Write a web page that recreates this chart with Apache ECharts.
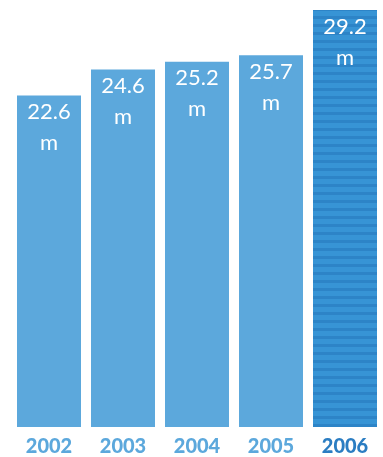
<!DOCTYPE html>
<html>
<head>
<meta charset="utf-8">
<script src="https://cdn.jsdelivr.net/npm/echarts@6/dist/echarts.min.js"></script>
<style>
  html, body { margin: 0; padding: 0; background: #ffffff; }
  #chart { width: 383px; height: 457px; }
</style>
</head>
<body>
<div id="chart"></div>
<script>
// Yearly totals, in millions
const years = ['2002', '2003', '2004', '2005', '2006'];
const totals = [22.6, 24.6, 25.2, 25.7, 29.2];
const unit = 'm';

// Value axis range; bars rise from the axis floor rather than from zero
const axisFloor = -3.0;
const axisCeil = 29.2;

const barBlue = '#5ca8dc';
const yearBlue = '#5ca8dc';
const highlightYearBlue = '#2b7dc2';

// Horizontal pinstripe fill for the latest year
function stripePattern() {
  const c = document.createElement('canvas');
  c.width = 8; c.height = 8;
  const g = c.getContext('2d');
  g.fillStyle = '#3794d5';
  g.fillRect(0, 0, 8, 8);
  g.fillStyle = '#2d84c7';
  g.fillRect(0, 0, 8, 3);
  return c;
}
const stripes = { image: stripePattern(), repeat: 'repeat' };

const last = years.length - 1;

const chart = echarts.init(document.getElementById('chart'), null, { renderer: 'canvas' });
chart.setOption({
  animation: false,
  grid: { left: 12, right: 1, top: 10, bottom: 29 },
  xAxis: {
    type: 'category',
    data: years.map((y, i) => ({
      value: y,
      textStyle: { color: i === last ? highlightYearBlue : yearBlue }
    })),
    axisLine: { show: false },
    axisTick: { show: false },
    axisLabel: {
      margin: 10,
      fontFamily: 'Lato',
      fontWeight: 900,
      fontSize: 20
    }
  },
  yAxis: {
    type: 'value',
    min: axisFloor,
    max: axisCeil,
    startValue: axisFloor,
    show: false,
    splitLine: { show: false }
  },
  series: [{
    type: 'bar',
    barWidth: 64,
    data: totals.map((v, i) => ({
      value: v,
      itemStyle: { color: i === last ? stripes : barBlue }
    })),
    label: {
      show: true,
      position: 'insideTop',
      distance: 1,
      color: '#ffffff',
      fontFamily: 'Lato',
      fontSize: 22,
      lineHeight: 31,
      formatter: p => p.value + '\n' + unit
    }
  }]
});
</script>
</body>
</html>
